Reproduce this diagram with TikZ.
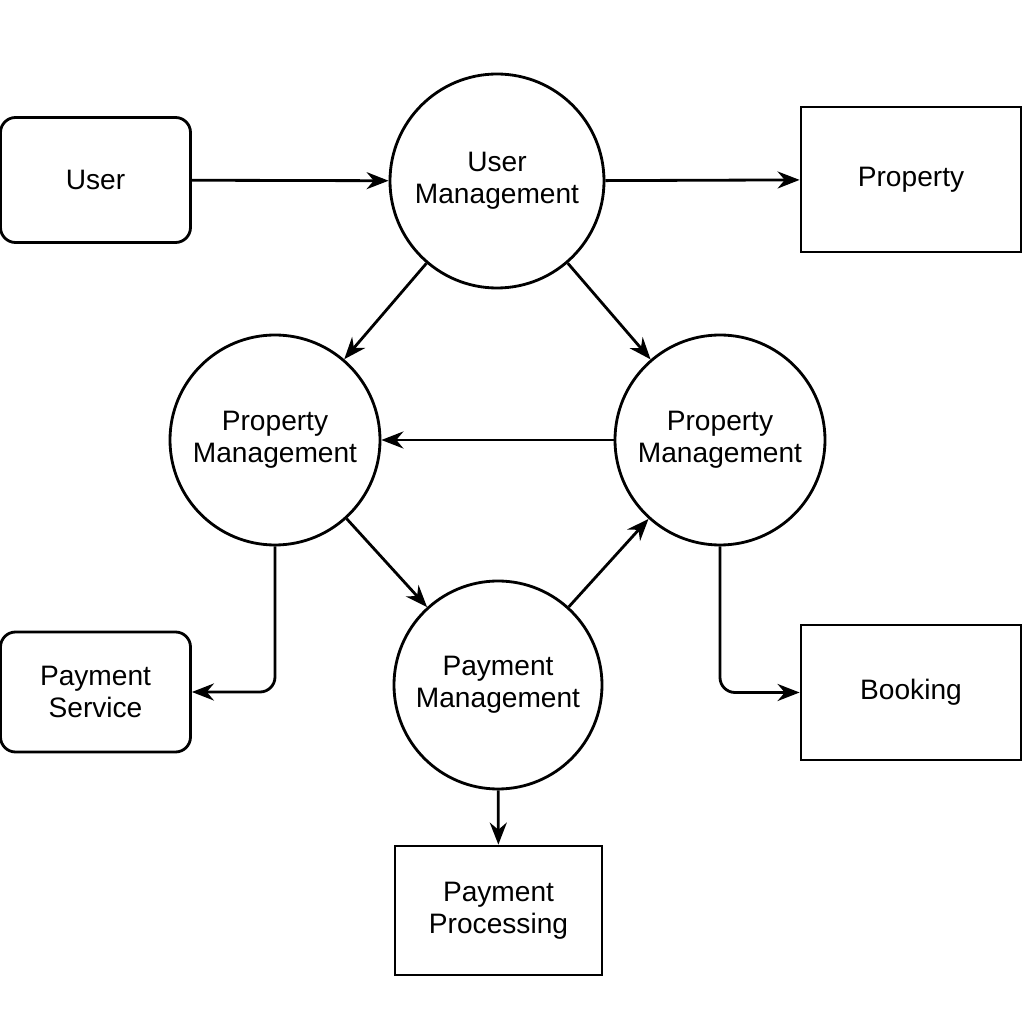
\documentclass[tikz,border=0pt]{standalone}
\usepackage{fontspec}
\setmainfont{Liberation Sans}
\usepackage{tikz}
\usetikzlibrary{arrows.meta}

\begin{document}
\begin{tikzpicture}[
    every node/.style={font=\fontsize{8}{9.1}\selectfont, align=center},
    proc/.style={draw, circle, line width=0.8pt, inner sep=0pt},
    ext/.style={draw, rectangle, line width=0.8pt, rounded corners=0.15cm},
    store/.style={draw, rectangle, line width=0.8pt},
    flow/.style={line width=0.8pt, -{Stealth[length=0.22cm,width=0.17cm]}}]
    \useasboundingbox (0,0) rectangle (10.24,10.24);
    \node[ext, minimum width=1.9cm, minimum height=1.25cm] (user) at (0.955,8.44) {User};
    \node[proc, minimum size=2.14cm] (umgmt) at (4.97,8.43) {User\\Management};
    \node[store, minimum width=2.2cm, minimum height=1.45cm] (prop) at (9.11,8.445) {Property};
    \node[proc, minimum size=2.1cm] (lpm) at (2.75,5.84) {Property\\Management};
    \node[proc, minimum size=2.1cm] (rpm) at (7.20,5.84) {Property\\Management};
    \node[proc, minimum size=2.08cm] (paym) at (4.98,3.39) {Payment\\Management};
    \node[ext, minimum width=1.9cm, minimum height=1.2cm] (paysvc) at (0.955,3.32) {Payment\\Service};
    \node[store, minimum width=2.2cm, minimum height=1.35cm] (book) at (9.11,3.315) {Booking};
    \node[store, minimum width=2.07cm, minimum height=1.29cm] (payproc) at (4.985,1.135) {Payment\\Processing};
    \draw[flow] (user) -- (umgmt);
    \draw[flow] (umgmt) -- (prop);
    \draw[flow] (umgmt) -- (lpm);
    \draw[flow] (umgmt) -- (rpm);
    \draw[flow] (rpm) -- (lpm);
    \draw[flow] (lpm) -- (paym);
    \draw[flow] (paym) -- (rpm);
    \draw[flow, rounded corners=0.15cm] (lpm.south) |- (paysvc.east);
    \draw[flow, rounded corners=0.15cm] (rpm.south) |- (book.west);
    \draw[flow] (paym) -- (payproc);
  \end{tikzpicture}
\end{document}
